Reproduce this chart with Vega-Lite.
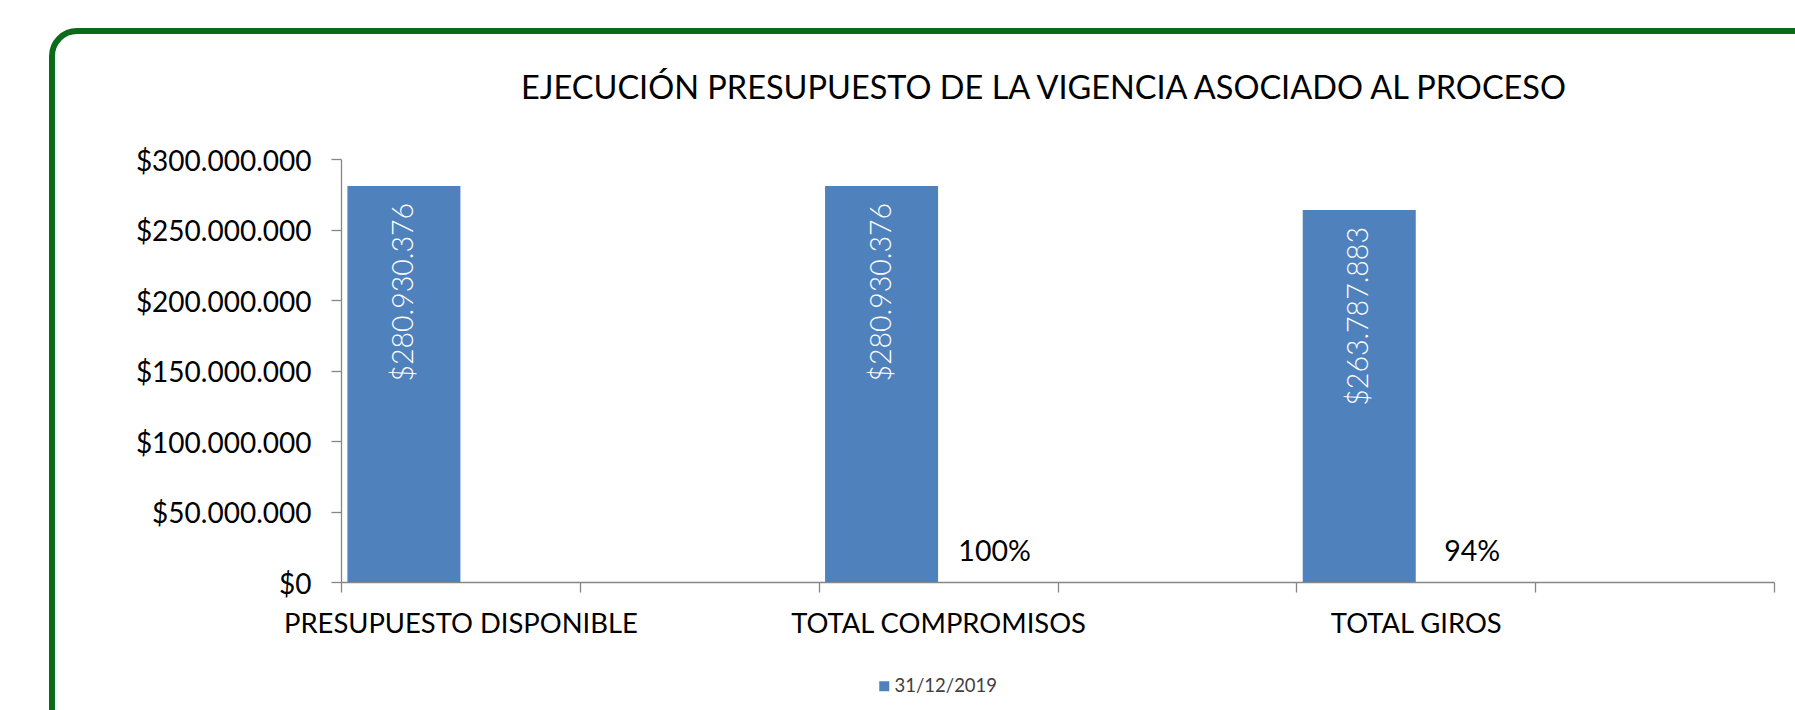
{
  "$schema": "https://vega.github.io/schema/vega-lite/v6.json",
  "autosize": {"type": "none"},
  "padding": {"left": 52, "top": 31, "right": -30, "bottom": -30},
  "width": 1773,
  "height": 709,
  "background": "white",
  "config": {
    "locale": {"number": {"decimal": ",", "thousands": ".", "grouping": [3], "currency": ["$", ""]}},
    "view": {"stroke": "#0b6b1b", "strokeWidth": 6, "cornerRadius": 25, "fill": "white"},
    "font": "Lato",
    "axis": {"grid": false, "domainColor": "#868686", "tickColor": "#868686", "domainWidth": 1.3, "tickWidth": 1.3, "labelFont": "Lato", "labelColor": "#000000", "labelFontSize": 28, "labelLimit": 1000, "labelOverlap": false, "title": null},
    "legend": {"orient": "none", "legendX": 823, "legendY": 646, "padding": 0, "symbolType": "square", "symbolSize": 100, "symbolStrokeWidth": 0, "labelFont": "Lato", "labelFontSize": 18.5, "labelColor": "#404040", "labelOffset": 1}
  },
  "title": {"text": "EJECUCIÓN PRESUPUESTO DE LA VIGENCIA ASOCIADO AL PROCESO", "font": "Lato", "fontSize": 32.5, "fontWeight": "normal", "color": "#000000", "anchor": "middle", "frame": "group", "offset": -90, "baseline": "middle", "dx": 105},
  "data": {"values": [
    {"categoria": "PRESUPUESTO DISPONIBLE", "serie": "31/12/2019", "valor": 280930376},
    {"categoria": "TOTAL COMPROMISOS", "serie": "31/12/2019", "valor": 280930376},
    {"categoria": "TOTAL GIROS", "serie": "31/12/2019", "valor": 263787883},
    {"categoria": "TOTAL COMPROMISOS", "serie": "%", "valor": 1},
    {"categoria": "TOTAL GIROS", "serie": "%", "valor": 0.94}
  ]},
  "encoding": {
    "x": {"field": "categoria", "type": "nominal",
      "scale": {"domain": ["PRESUPUESTO DISPONIBLE", "_1", "TOTAL COMPROMISOS", "_2", "TOTAL GIROS", "_3"], "range": [289, 1722], "paddingInner": 0, "paddingOuter": 0},
      "axis": {"offset": -158, "tickBand": "extent", "tickSize": 10, "labelPadding": 18, "labelFontSize": 27.4, "labelAngle": 0, "labelExpr": "indexof(datum.label, '_') == 0 ? '' : datum.label"}},
    "xOffset": {"field": "serie", "type": "nominal", "scale": {"domain": ["31/12/2019", "%"], "paddingInner": 0, "paddingOuter": 0.0566}},
    "y": {"field": "valor", "type": "quantitative",
      "scale": {"domain": [0, 300000000], "range": [551, 128], "nice": false},
      "axis": {"offset": -289, "values": [0, 50000000, 100000000, 150000000, 200000000, 250000000, 300000000], "format": "$,.0f", "tickSize": 10, "labelPadding": 20, "labelOffset": 3}}
  },
  "layer": [
    {
      "transform": [{"filter": "datum.serie == '31/12/2019'"}],
      "mark": {"type": "bar"},
      "encoding": {
        "color": {"field": "serie", "type": "nominal", "scale": {"domain": ["31/12/2019"], "range": ["#4f81bd"]}, "legend": {"title": null}}
      }
    },
    {
      "transform": [{"filter": "datum.serie == '31/12/2019'"}],
      "mark": {"type": "text", "angle": 270, "align": "right", "baseline": "middle", "dx": -17, "color": "white", "font": "Lato", "fontSize": 28.5, "fontWeight": 300},
      "encoding": {"text": {"field": "valor", "type": "quantitative", "format": "$,.0f"}}
    },
    {
      "transform": [{"filter": "datum.serie == '%'"}],
      "mark": {"type": "text", "align": "center", "baseline": "middle", "dy": -30, "color": "black", "font": "Lato", "fontSize": 28.5},
      "encoding": {"text": {"field": "valor", "type": "quantitative", "format": ".0%"}}
    }
  ]
}
